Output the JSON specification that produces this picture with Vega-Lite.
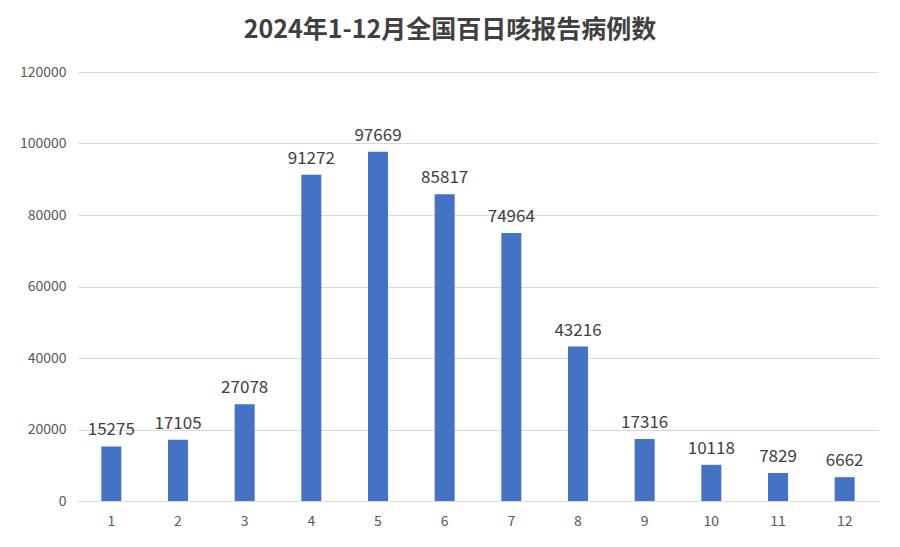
{
  "$schema": "https://vega.github.io/schema/vega-lite/v6.json",
  "autosize": {"type": "none"},
  "padding": {"left": 78, "top": 72, "right": 22, "bottom": 46},
  "width": 800,
  "height": 429,
  "background": "white",
  "title": {
    "text": "2024年1-12月全国百日咳报告病例数",
    "fontSize": 25,
    "fontWeight": "bold",
    "font": "Noto Sans CJK SC",
    "color": "#404040",
    "anchor": "middle",
    "dx": -28,
    "offset": 22
  },
  "data": {
    "values": [
      {"month": "1", "cases": 15275},
      {"month": "2", "cases": 17105},
      {"month": "3", "cases": 27078},
      {"month": "4", "cases": 91272},
      {"month": "5", "cases": 97669},
      {"month": "6", "cases": 85817},
      {"month": "7", "cases": 74964},
      {"month": "8", "cases": 43216},
      {"month": "9", "cases": 17316},
      {"month": "10", "cases": 10118},
      {"month": "11", "cases": 7829},
      {"month": "12", "cases": 6662}
    ]
  },
  "encoding": {
    "x": {
      "field": "month",
      "type": "ordinal",
      "sort": null,
      "title": null,
      "axis": {
        "labelAngle": 0,
        "ticks": false,
        "domainColor": "#D9D9D9",
        "labelColor": "#595959",
        "labelFontSize": 14,
        "labelPadding": 13
      }
    },
    "y": {
      "field": "cases",
      "type": "quantitative",
      "title": null,
      "scale": {"domain": [0, 120000]},
      "axis": {
        "values": [0, 20000, 40000, 60000, 80000, 100000, 120000],
        "format": "d",
        "domain": false,
        "ticks": false,
        "gridColor": "#D9D9D9",
        "labelColor": "#595959",
        "labelFontSize": 14,
        "labelPadding": 12
      }
    }
  },
  "layer": [
    {"mark": {"type": "bar", "width": 20, "color": "#4472C4"}},
    {
      "mark": {
        "type": "text",
        "baseline": "bottom",
        "dy": -7,
        "fontSize": 17,
        "color": "#404040"
      },
      "encoding": {"text": {"field": "cases", "type": "quantitative", "format": "d"}}
    }
  ],
  "config": {
    "font": "Noto Sans CJK SC",
    "view": {"stroke": null}
  }
}
